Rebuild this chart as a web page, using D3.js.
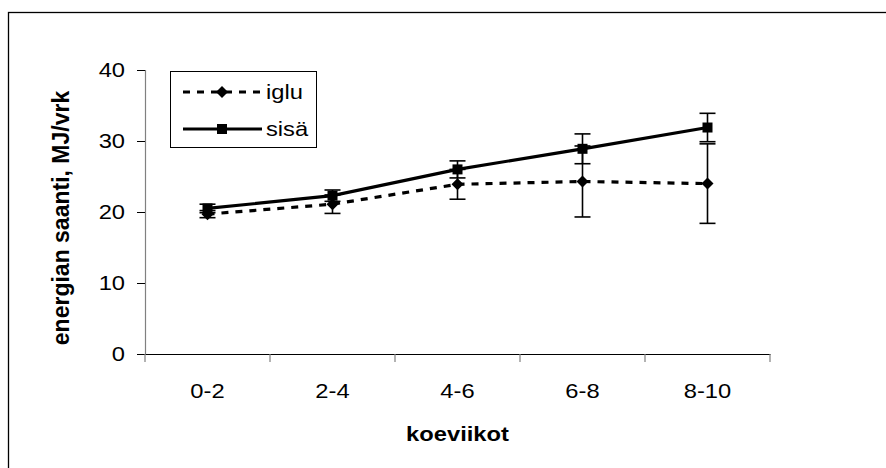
<!DOCTYPE html>
<html><head><meta charset="utf-8">
<script src="https://cdn.jsdelivr.net/npm/d3@7"></script>
<style>body{margin:0;background:#fff}svg{display:block}text{font-family:"Liberation Sans",Arial,sans-serif}</style>
</head><body><svg id="c" width="886" height="468"></svg>
<script>
const categories = ["0-2","2-4","4-6","6-8","8-10"];
const igluValues = [19.7, 21.1, 23.9, 24.3, 24.0];
const igluErrors = [0.5, 1.3, 2.1, 5.0, 5.6];
const sisaValues = [20.5, 22.3, 26.0, 28.9, 31.9];
const sisaErrors = [0.6, 0.8, 1.2, 2.1, 2.0];
const yTicks = [0, 10, 20, 30, 40];
const seriesNames = ["iglu", "sisä"];

(function () {
const svg = d3.select("#c");
const mLeft = 145, mRight = 770, mTop = 70, mBottom = 354;
const FS = 21, SX = 1.13;

function stretch(sel) {
  sel.each(function () {
    const t = d3.select(this);
    const tx = +t.attr("x") || 0;
    t.attr("transform", `translate(${tx},0) scale(${SX},1) translate(${-tx},0)`);
  });
}

svg.append("rect").attr("x", 8.5).attr("y", 12.5).attr("width", 900).attr("height", 500)
  .attr("fill", "#fff").attr("stroke", "#000").attr("stroke-width", 1.3);

const x = d3.scaleBand().domain(categories).range([mLeft, mRight]);
const y = d3.scaleLinear().domain([0, 40]).range([mBottom, mTop]);

// y axis
const ya = svg.append("g").attr("transform", `translate(${mLeft},0)`)
  .call(d3.axisLeft(y).tickValues(yTicks).tickSize(8).tickPadding(12));
ya.select(".domain").attr("stroke", "#808080").attr("stroke-width", 1.2);
ya.selectAll(".tick line").attr("stroke", "#000");
ya.selectAll("text").attr("font-size", FS).attr("fill", "#000").attr("font-family", "Liberation Sans, Arial, sans-serif").call(stretch);

// x axis
const xa = svg.append("g").attr("transform", `translate(0,${mBottom})`)
  .call(d3.axisBottom(x).tickSize(0).tickPadding(29));
xa.select(".domain").attr("stroke", "#000").attr("stroke-width", 1.2);
xa.selectAll("text").attr("font-size", FS).attr("fill", "#000").attr("font-family", "Liberation Sans, Arial, sans-serif").call(stretch);
const bounds = [mLeft, ...categories.map(c => x(c) + x.bandwidth())];
xa.selectAll(".sep").data(bounds).enter().append("line")
  .attr("x1", d => d).attr("x2", d => d).attr("y1", 0).attr("y2", 8)
  .attr("stroke", "#808080").attr("stroke-width", 1.2);

// titles
svg.append("text").attr("x", (mLeft + mRight) / 2).attr("y", 441).attr("text-anchor", "middle")
  .attr("font-size", FS).attr("font-weight", "bold").text("koeviikot").call(stretch);
svg.append("text").attr("transform", `translate(69,218) rotate(-90)`)
  .attr("text-anchor", "middle").attr("font-size", 23).attr("font-weight", "bold")
  .text("energian saanti, MJ/vrk");

const cx = c => x(c) + x.bandwidth() / 2;
const series = [
  {name: seriesNames[0], values: igluValues, errors: igluErrors, dash: "7,7", marker: "diamond"},
  {name: seriesNames[1], values: sisaValues, errors: sisaErrors, dash: null, marker: "square"}
];

const line = d3.line().x(d => cx(d.c)).y(d => y(d.v));
function drawMarker(g, type, px, py) {
  if (type === "diamond") {
    g.append("path").attr("d", `M${px},${py-6}L${px+6},${py}L${px},${py+6}L${px-6},${py}Z`).attr("fill", "#000");
  } else {
    g.append("rect").attr("x", px-5).attr("y", py-5).attr("width", 10).attr("height", 10).attr("fill", "#000");
  }
}

series.forEach(s => {
  const pts = categories.map((c, i) => ({c, v: s.values[i], e: s.errors[i]}));
  const g = svg.append("g");
  pts.forEach(p => {
    const px = cx(p.c);
    g.append("line").attr("x1", px).attr("x2", px).attr("y1", y(p.v + p.e)).attr("y2", y(p.v - p.e))
      .attr("stroke", "#000").attr("stroke-width", 1.6);
    [p.v + p.e, p.v - p.e].forEach(v => g.append("line").attr("x1", px - 8).attr("x2", px + 8)
      .attr("y1", y(v)).attr("y2", y(v)).attr("stroke", "#000").attr("stroke-width", 1.6));
  });
  g.append("path").datum(pts).attr("d", line).attr("fill", "none").attr("stroke", "#000")
    .attr("stroke-width", 3.2).attr("stroke-dasharray", s.dash);
  pts.forEach(p => drawMarker(g, s.marker, cx(p.c), y(p.v)));
});

// legend
const lg = svg.append("g");
lg.append("rect").attr("x", 170.5).attr("y", 71.5).attr("width", 146).attr("height", 76)
  .attr("fill", "#fff").attr("stroke", "#000").attr("stroke-width", 1);
series.forEach((s, i) => {
  const ly = 92 + i * 37;
  lg.append("line").attr("x1", 183).attr("x2", 262).attr("y1", ly).attr("y2", ly)
    .attr("stroke", "#000").attr("stroke-width", 3.2).attr("stroke-dasharray", s.dash);
  drawMarker(lg, s.marker, 222, ly);
  lg.append("text").attr("x", 266).attr("y", ly + 7).attr("font-size", FS).text(s.name).call(stretch);
});
})();
</script></body></html>
